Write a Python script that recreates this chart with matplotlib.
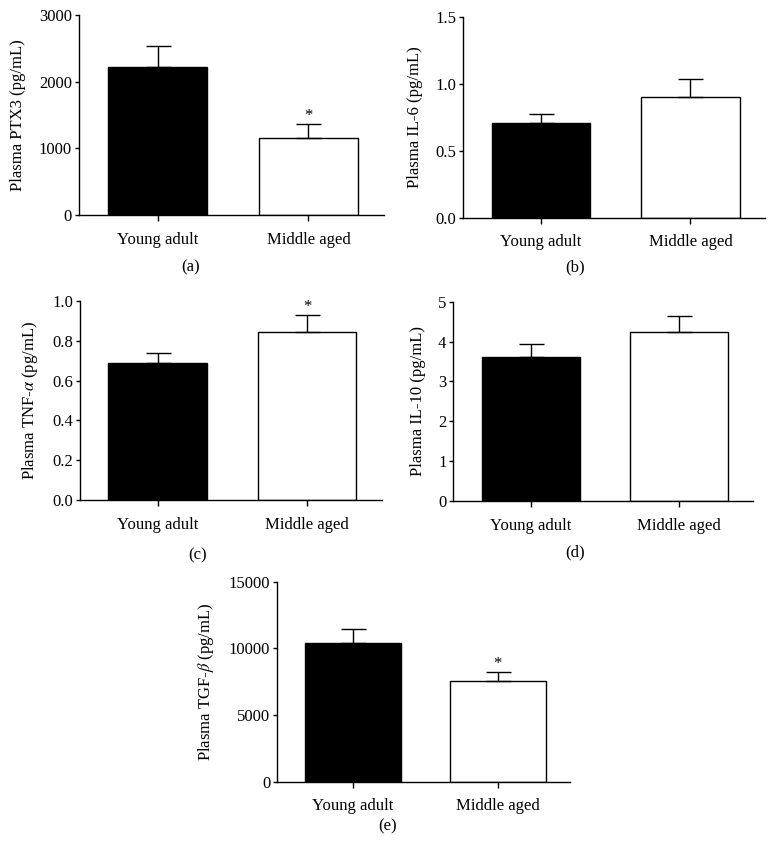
import matplotlib
matplotlib.use("Agg")
import matplotlib.pyplot as plt
import numpy as np

plt.rcParams['font.family'] = ['Liberation Serif', 'DejaVu Serif']
plt.rcParams['mathtext.fontset'] = 'stix'

# two age groups, mean and upper SEM for each marker
groups = ["Young adult", "Middle aged"]

ptx3_mean = [2215, 1150]
ptx3_err = [325, 215]

il6_mean = [0.711, 0.906]
il6_err = [0.065, 0.134]

tnf_mean = [0.69, 0.846]
tnf_err = [0.05, 0.084]

il10_mean = [3.62, 4.25]
il10_err = [0.32, 0.40]

tgf_mean = [10380, 7550]
tgf_err = [1050, 700]

# which bars get a significance star
ptx3_sig = [False, True]
il6_sig = [False, False]
tnf_sig = [False, True]
il10_sig = [False, False]
tgf_sig = [False, True]

fig = plt.figure(figsize=(7.76, 8.66), dpi=100)


def bar_panel(rect, means, errs, sig, ylabel, yticks, ticklabels, letter, letter_xy):
    ax = fig.add_axes(rect)
    x = np.arange(len(groups))
    ax.bar(x, means, width=0.66, color=['black', 'white'],
           edgecolor='black', linewidth=1.0, zorder=2)
    ax.errorbar(x, means, yerr=[[0] * len(errs), errs], fmt='none',
                ecolor='black', elinewidth=1.0, capsize=9, capthick=1.0, zorder=3)
    for xi, m, e, s in zip(x, means, errs, sig):
        if s:
            ax.annotate('*', xy=(xi, m + e), xytext=(0, 0), textcoords='offset points',
                        ha='center', va='bottom', fontsize=12)
    ax.set_xlim(-0.52, 1.5)
    ax.set_ylim(0, yticks[-1])
    ax.set_yticks(yticks)
    ax.set_yticklabels(ticklabels)
    ax.set_xticks(x)
    ax.set_xticklabels(groups)
    ax.spines['top'].set_visible(False)
    ax.spines['right'].set_visible(False)
    ax.spines['left'].set_linewidth(1.0)
    ax.spines['bottom'].set_linewidth(1.0)
    ax.tick_params(axis='y', direction='out', length=3, width=1.0, labelsize=12, pad=2)
    ax.tick_params(axis='x', direction='out', length=4, width=1.0, labelsize=12, pad=8)
    ax.set_ylabel(ylabel, fontsize=12, labelpad=9)
    fig.text(letter_xy[0], letter_xy[1], letter, ha='center', va='center', fontsize=12)
    return ax


bar_panel([0.1018, 0.7517, 0.393, 0.2309], ptx3_mean, ptx3_err, ptx3_sig,
          'Plasma PTX3 (pg/mL)', [0, 1000, 2000, 3000],
          ['0', '1000', '2000', '3000'], '(a)', (0.246, 0.6917))

bar_panel([0.597, 0.7486, 0.389, 0.2314], il6_mean, il6_err, il6_sig,
          'Plasma IL-6 (pg/mL)', [0, 0.5, 1.0, 1.5],
          ['0.0', '0.5', '1.0', '1.5'], '(b)', (0.741, 0.6917))

bar_panel([0.1031, 0.4226, 0.389, 0.2298], tnf_mean, tnf_err, tnf_sig,
          r'Plasma TNF-$\alpha$ (pg/mL)', [0, 0.2, 0.4, 0.6, 0.8, 1.0],
          ['0.0', '0.2', '0.4', '0.6', '0.8', '1.0'], '(c)', (0.254, 0.359))

bar_panel([0.5842, 0.4215, 0.3866, 0.2301], il10_mean, il10_err, il10_sig,
          'Plasma IL-10 (pg/mL)', [0, 1, 2, 3, 4, 5],
          ['0', '1', '2', '3', '4', '5'], '(d)', (0.741, 0.362))

bar_panel([0.3573, 0.0973, 0.3776, 0.2309], tgf_mean, tgf_err, tgf_sig,
          r'Plasma TGF-$\beta$ (pg/mL)', [0, 5000, 10000, 15000],
          ['0', '5000', '10000', '15000'], '(e)', (0.499, 0.0454))

fig.savefig('out.png', dpi=100, facecolor='white')
